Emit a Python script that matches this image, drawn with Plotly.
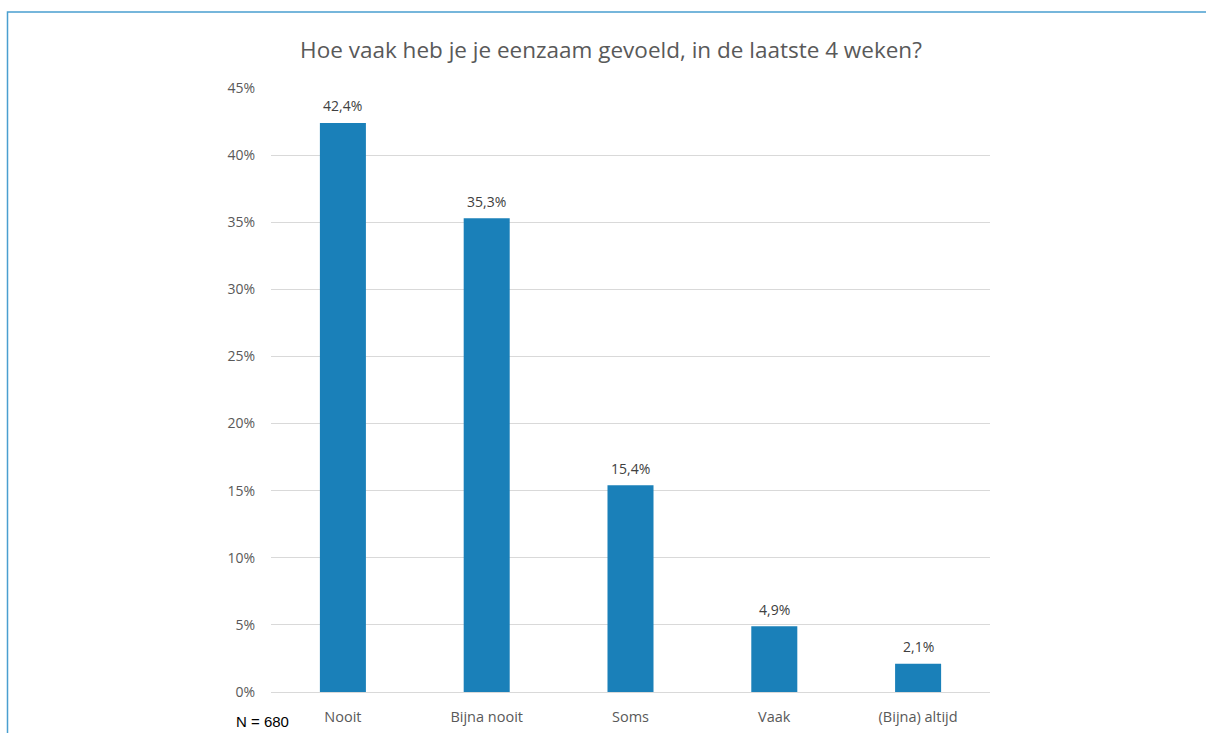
import plotly.graph_objects as go

categories = ["Nooit", "Bijna nooit", "Soms", "Vaak", "(Bijna) altijd"]
shares = [0.424, 0.353, 0.154, 0.049, 0.021]
y_ticks = [0, 0.05, 0.10, 0.15, 0.20, 0.25, 0.30, 0.35, 0.40, 0.45]

W, H = 1206, 733
L, R, T, B = 271, 216, 88, 41
pw, ph = W - L - R, H - T - B

def px_x(x):
    return (x - L) / pw

def px_y(y):
    return (H - B - y) / ph

def pct(v):
    return f"{v * 100:.1f}".replace(".", ",") + "%"

fig = go.Figure(
    go.Bar(
        x=categories,
        y=shares,
        marker=dict(color="#1a80b9", line=dict(width=0)),
        hoverinfo="x+y",
    )
)

# value labels above each bar
value_labels = [
    dict(
        x=c, y=v, xref="x", yref="y", text=pct(v),
        showarrow=False, yanchor="middle", yshift=17,
        font=dict(family="Open Sans", size=14, color="#404040"),
    )
    for c, v in zip(categories, shares)
]

fig.update_layout(
    width=W,
    height=H,
    margin=dict(l=L, r=R, t=T, b=B),
    paper_bgcolor="white",
    plot_bgcolor="white",
    separators=",.",
    bargap=0.68,
    showlegend=False,
    title=dict(
        text="Hoe vaak heb je je eenzaam gevoeld, in de laatste 4 weken?",
        x=px_x(611), xref="paper", xanchor="center",
        y=1 - 50 / H, yanchor="middle",
        font=dict(family="Open Sans", size=22.5, color="#595959"),
    ),
    xaxis=dict(
        automargin=False,
        showgrid=False,
        showline=False,
        ticks="",
        tickfont=dict(family="Open Sans", size=14.5, color="#595959"),
        ticklabelstandoff=14,
    ),
    yaxis=dict(
        automargin=False,
        range=[0, 0.45],
        tickvals=y_ticks,
        tickformat=".0%",
        showgrid=True,
        gridcolor="#d9d9d9",
        gridwidth=1,
        zeroline=True,
        zerolinecolor="#d9d9d9",
        zerolinewidth=1,
        showline=False,
        ticks="",
        ticklabelstandoff=15,
        tickfont=dict(family="Open Sans", size=14, color="#595959"),
    ),
    shapes=[
        dict(
            type="rect", xref="paper", yref="paper",
            x0=px_x(7.5), x1=px_x(W + 20), y0=px_y(H + 20), y1=px_y(12),
            line=dict(color="#4a9fd0", width=1.5),
            fillcolor="rgba(0,0,0,0)", layer="below",
        )
    ],
    annotations=value_labels + [
        dict(
            text="N = 680", xref="paper", yref="paper",
            x=px_x(234), y=px_y(721), xanchor="left", yanchor="middle",
            showarrow=False,
            font=dict(family="Liberation Sans", size=15, color="#000000"),
        )
    ],
)

fig.write_html("out.html")
